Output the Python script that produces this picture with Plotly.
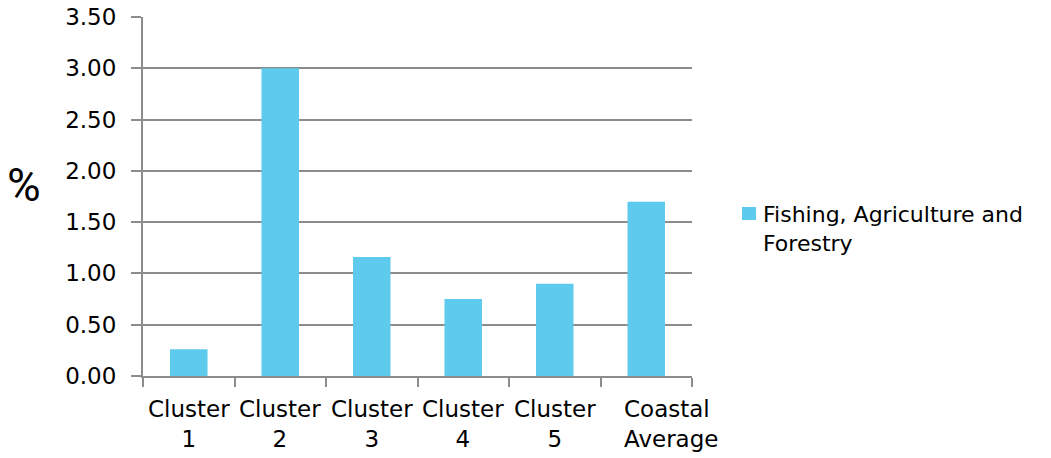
import plotly.graph_objects as go

categories = ["Cluster 1", "Cluster 2", "Cluster 3", "Cluster 4", "Cluster 5", "Coastal Average"]
category_labels = ["Cluster<br>1", "Cluster<br>2", "Cluster<br>3", "Cluster<br>4", "Cluster<br>5", "Coastal<br>Average"]
values = [0.26, 3.00, 1.16, 0.75, 0.90, 1.70]
series_name = "Fishing, Agriculture and<br>Forestry"
y_ticks = [0.0, 0.5, 1.0, 1.5, 2.0, 2.5, 3.0, 3.5]

FONT = "DejaVu Sans"
GRID = "#8c8c8c"
BAR = "#5ecbee"

fig = go.Figure(
    go.Bar(
        x=categories,
        y=values,
        name=series_name,
        marker=dict(color=BAR, line=dict(width=0)),
        width=0.41,
        showlegend=False,
    )
)

fig.update_layout(
    width=1051,
    height=458,
    margin=dict(l=143, r=359, t=17, b=82, pad=0),
    plot_bgcolor="white",
    paper_bgcolor="white",
    font=dict(family=FONT, size=23, color="#000000"),
    showlegend=False,
    xaxis=dict(
        range=[-0.5, len(categories) - 0.5],
        showgrid=False,
        showline=True,
        linecolor=GRID,
        linewidth=2,
        ticks="outside",
        tickson="boundaries",
        ticklen=9,
        tickwidth=2,
        tickcolor=GRID,
        showticklabels=False,
        automargin=False,
        fixedrange=True,
    ),
    yaxis=dict(
        range=[0, 3.5],
        tickvals=y_ticks,
        ticktext=[f"{v:.2f}" for v in y_ticks],
        showgrid=True,
        gridcolor=GRID,
        gridwidth=2,
        showline=True,
        linecolor=GRID,
        linewidth=2,
        ticks="outside",
        ticklen=10,
        tickwidth=2,
        tickcolor=GRID,
        ticklabelstandoff=10,
        tickfont=dict(family=FONT, size=23),
        zeroline=False,
        automargin=False,
        fixedrange=True,
    ),
)

# category labels under the axis; the last one is left-aligned like the source chart
for i, (cat, lab) in enumerate(zip(categories, category_labels)):
    last = i == len(categories) - 1
    fig.add_annotation(
        text=lab,
        x=cat,
        xref="x",
        yref="paper",
        y=0,
        yshift=-18,
        xshift=-24 if last else 0,
        xanchor="left" if last else "center",
        yanchor="top",
        align="left" if last else "center",
        showarrow=False,
        font=dict(family=FONT, size=23, color="#000000"),
    )

# legend: swatch + wrapped series name
fig.add_shape(
    type="rect",
    xref="paper",
    yref="paper",
    x0=(742 - 143) / 549,
    x1=(756 - 143) / 549,
    y0=(376 - 220) / 359,
    y1=(376 - 207) / 359,
    fillcolor=BAR,
    line=dict(width=0),
)
fig.add_annotation(
    text=series_name,
    xref="paper",
    yref="paper",
    x=(761 - 143) / 549,
    y=(376 - 229) / 359,
    xanchor="left",
    yanchor="middle",
    align="left",
    showarrow=False,
    font=dict(family=FONT, size=22, color="#000000"),
)

fig.add_annotation(
    text="%",
    xref="paper",
    yref="paper",
    x=(24 - 143) / 549,
    y=(376 - 185) / 359,
    xanchor="center",
    yanchor="middle",
    showarrow=False,
    font=dict(family="Roboto", size=46, color="#000000"),
)

fig.write_html("out.html")
